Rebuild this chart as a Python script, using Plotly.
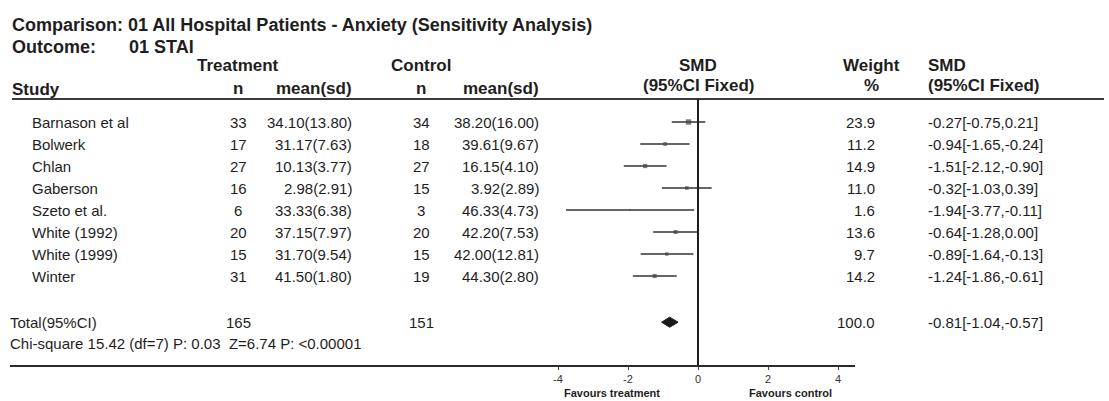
import plotly.graph_objects as go

# ---------------- data ----------------
studies = ["Barnason et al", "Bolwerk", "Chlan", "Gaberson", "Szeto et al.",
           "White (1992)", "White (1999)", "Winter"]
trt_n = [33, 17, 27, 16, 6, 20, 15, 31]
trt_mean_sd = ["34.10(13.80)", "31.17(7.63)", "10.13(3.77)", "2.98(2.91)",
               "33.33(6.38)", "37.15(7.97)", "31.70(9.54)", "41.50(1.80)"]
ctl_n = [34, 18, 27, 15, 3, 20, 15, 19]
ctl_mean_sd = ["38.20(16.00)", "39.61(9.67)", "16.15(4.10)", "3.92(2.89)",
               "46.33(4.73)", "42.20(7.53)", "42.00(12.81)", "44.30(2.80)"]
weight = [23.9, 11.2, 14.9, 11.0, 1.6, 13.6, 9.7, 14.2]
smd = [-0.27, -0.94, -1.51, -0.32, -1.94, -0.64, -0.89, -1.24]
ci_lo = [-0.75, -1.65, -2.12, -1.03, -3.77, -1.28, -1.64, -1.86]
ci_hi = [0.21, -0.24, -0.90, 0.39, -0.11, 0.00, -0.13, -0.61]

total_label = "Total(95%CI)"
total_trt_n = 165
total_ctl_n = 151
total_weight = 100.0
total_smd = -0.81
total_lo = -1.04
total_hi = -0.57
het_text = "Chi-square 15.42 (df=7) P: 0.03  Z=6.74 P: <0.00001"

title_text = "Comparison: 01 All Hospital Patients - Anxiety (Sensitivity Analysis)"
outcome_label = "Outcome:"
outcome_text = "01 STAI"
tick_vals = [-4, -2, 0, 2, 4]
tick_text = ["-4", "-2", "0", "2", "4"]
favours_left = "Favours treatment"
favours_right = "Favours control"

# ---------------- layout helpers ----------------
W, H = 1109, 401
FONT = "Liberation Sans, Arial, Helvetica, sans-serif"
TXT = "#1e1e1e"
ROW0, STEP = 122.0, 22.0          # pixel y of first study row and row spacing
AX_BOTTOM = 365.0                 # pixel y of x-axis line
HDR_LINE = 99.0
X0PX, UNIT = 698.0, 35.0          # pixel x of SMD=0 and pixels per SMD unit
AX_LEFT, AX_RIGHT = 10.0, 855.0


def px(x):
    return x / W


def py(y):
    return 1 - y / H


rows = list(range(len(studies)))
total_row = 9.1
het_row = 10.05

fig = go.Figure()

# study CIs and weighted squares
fig.add_trace(go.Scatter(
    x=smd, y=rows, mode="markers",
    marker=dict(symbol="square", color="#444444",
                size=[1.1 * w ** 0.5 for w in weight], line=dict(width=0)),
    error_x=dict(type="data", symmetric=False,
                 array=[h - m for h, m in zip(ci_hi, smd)],
                 arrayminus=[m - l for m, l in zip(smd, ci_lo)],
                 color="#333333", thickness=1.5, width=0),
    hoverinfo="skip", showlegend=False))

# pooled diamond
dh = 0.23
fig.add_trace(go.Scatter(
    x=[total_lo, total_smd, total_hi, total_smd, total_lo],
    y=[total_row, total_row - dh, total_row, total_row + dh, total_row],
    mode="lines", fill="toself", fillcolor="#1a1a1a",
    line=dict(color="#1a1a1a", width=1), hoverinfo="skip", showlegend=False))

ann = []


def add(text, x, y, yref="y", anchor="left", size=15, bold=False, color=TXT):
    ann.append(dict(text=f"<b>{text}</b>" if bold else text,
                    x=x, y=y, xref="paper", yref=yref, xanchor=anchor,
                    yanchor="middle", showarrow=False,
                    font=dict(family=FONT, size=size, color=color)))


# title block
add(title_text, px(10), py(25), "paper", "left", 18, True)
add(outcome_label, px(10), py(47), "paper", "left", 18, True)
add(outcome_text, px(127), py(47), "paper", "left", 18, True)

# column headers
HS = 17
add("Treatment", px(238), py(66), "paper", "center", HS, True)
add("Control", px(421), py(66), "paper", "center", HS, True)
add("SMD", px(698), py(66), "paper", "center", HS, True)
add("Weight", px(871), py(66), "paper", "center", HS, True)
add("SMD", px(926), py(66), "paper", "left", HS, True)
add("Study", px(10), py(89), "paper", "left", HS, True)
add("n", px(238), py(88), "paper", "center", HS, True)
add("mean(sd)", px(354), py(88), "paper", "right", HS, True)
add("n", px(421), py(88), "paper", "center", HS, True)
add("mean(sd)", px(541), py(88), "paper", "right", HS, True)
add("(95%CI Fixed)", px(698), py(86), "paper", "center", HS, True)
add("%", px(871), py(86), "paper", "center", HS, True)
add("(95%CI Fixed)", px(926), py(86), "paper", "left", HS, True)

# study rows
for r, s, tn, tm, cn, cm, w, m, lo, hi in zip(rows, studies, trt_n, trt_mean_sd,
                                              ctl_n, ctl_mean_sd, weight, smd, ci_lo, ci_hi):
    add(s, px(30), r, anchor="left")
    add(str(tn), px(238), r, anchor="center")
    add(tm, px(354), r, anchor="right")
    add(str(cn), px(421), r, anchor="center")
    add(cm, px(541), r, anchor="right")
    add(f"{w:.1f}", px(877), r, anchor="right")
    add(f"{m:.2f}[{lo:.2f},{hi:.2f}]", px(926), r, anchor="left")

# total rows
add(total_label, px(8), total_row, anchor="left")
add(str(total_trt_n), px(238), total_row, anchor="center")
add(str(total_ctl_n), px(421), total_row, anchor="center")
add(f"{total_weight:.1f}", px(877), total_row, anchor="right")
add(f"{total_smd:.2f}[{total_lo:.2f},{total_hi:.2f}]", px(926), total_row, anchor="left")
add(het_text, px(8), het_row, anchor="left")

# favours labels
add(favours_left, px(612), py(393), "paper", "center", 11, True)
add(favours_right, px(747), py(393), "paper", "left", 11, True)

shapes = [
    # header rule
    dict(type="line", xref="paper", yref="paper", x0=px(12), x1=px(1104),
         y0=py(HDR_LINE), y1=py(HDR_LINE), line=dict(color="#3a3a3a", width=2)),
    # line of no effect
    dict(type="line", xref="x", yref="paper", x0=0, x1=0,
         y0=py(AX_BOTTOM), y1=py(HDR_LINE), line=dict(color="#1e1e1e", width=2)),
]

fig.update_layout(
    width=W, height=H, margin=dict(l=0, r=0, t=0, b=0),
    paper_bgcolor="white", plot_bgcolor="white",
    annotations=ann, shapes=shapes, showlegend=False,
    xaxis=dict(domain=[px(AX_LEFT), px(AX_RIGHT)],
               range=[(AX_LEFT - X0PX) / UNIT, (AX_RIGHT - X0PX) / UNIT],
               tickvals=tick_vals, ticktext=tick_text,
               showline=True, linecolor="#2a2a2a", linewidth=2,
               ticks="outside", ticklen=3, tickcolor="#444444", tickwidth=1,
               showgrid=False, zeroline=False, fixedrange=True,
               tickfont=dict(family=FONT, size=11, color="#333333")),
    yaxis=dict(domain=[1 - AX_BOTTOM / H, 1],
               range=[(AX_BOTTOM - ROW0) / STEP, -ROW0 / STEP],
               visible=False, showgrid=False, zeroline=False, fixedrange=True),
)

fig.write_html(
    "out.html",
    config={"displayModeBar": False},
    post_script="document.body.style.margin='0';document.body.style.overflow='hidden';",
)
